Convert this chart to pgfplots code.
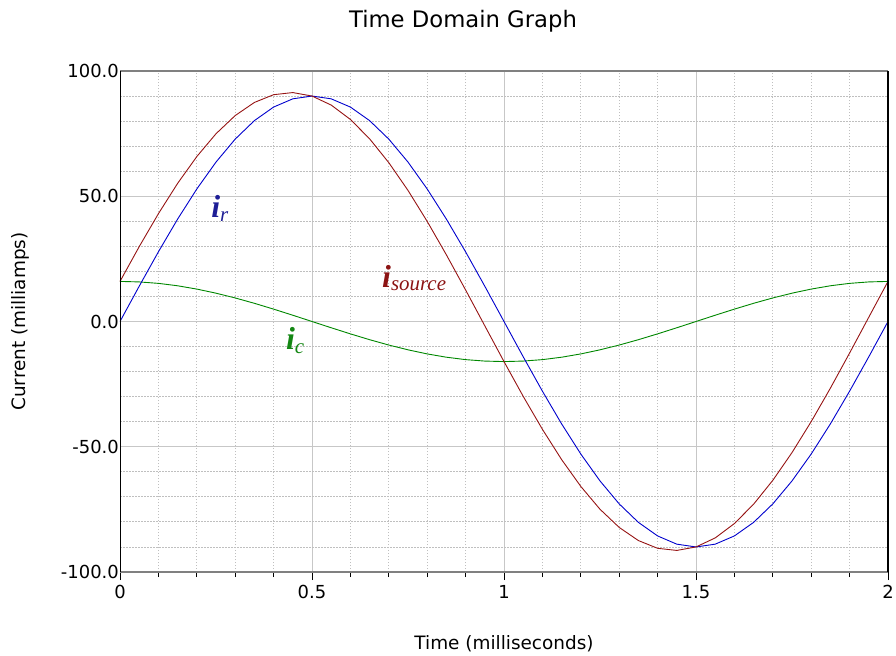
\documentclass[border=0pt]{standalone}
\usepackage{fontspec}
\setmainfont{DejaVu Sans}
\newfontfamily\lblfont{Liberation Serif}
\usepackage{pgfplots}
\usepackage{pgfplotstable}
\pgfplotsset{compat=1.18}
\definecolor{cr}{RGB}{0,0,205}
\definecolor{cs}{RGB}{150,20,20}
\definecolor{cc}{RGB}{0,135,0}
\definecolor{lr}{RGB}{30,30,150}
\definecolor{ls}{RGB}{140,20,20}
\definecolor{lc}{RGB}{20,135,20}
\pgfplotstableread{
t ir ic is
0.00 0 16 16
0.05 14.08 15.80 29.88
0.10 27.81 15.22 43.03
0.15 40.86 14.26 55.12
0.20 52.90 12.94 65.84
0.25 63.64 11.31 74.95
0.30 72.81 9.40 82.21
0.35 80.19 7.26 87.45
0.40 85.60 4.94 90.54
0.45 88.89 2.50 91.39
0.50 90.00 0 90.00
0.55 88.89 -2.50 86.39
0.60 85.60 -4.94 80.66
0.65 80.19 -7.26 72.93
0.70 72.81 -9.40 63.41
0.75 63.64 -11.31 52.33
0.80 52.90 -12.94 39.96
0.85 40.86 -14.26 26.60
0.90 27.81 -15.22 12.59
0.95 14.08 -15.80 -1.72
1.00 0 -16 -16
1.05 -14.08 -15.80 -29.88
1.10 -27.81 -15.22 -43.03
1.15 -40.86 -14.26 -55.12
1.20 -52.90 -12.94 -65.84
1.25 -63.64 -11.31 -74.95
1.30 -72.81 -9.40 -82.21
1.35 -80.19 -7.26 -87.45
1.40 -85.60 -4.94 -90.54
1.45 -88.89 -2.50 -91.39
1.50 -90.00 0 -90.00
1.55 -88.89 2.50 -86.39
1.60 -85.60 4.94 -80.66
1.65 -80.19 7.26 -72.93
1.70 -72.81 9.40 -63.41
1.75 -63.64 11.31 -52.33
1.80 -52.90 12.94 -39.96
1.85 -40.86 14.26 -26.60
1.90 -27.81 15.22 -12.59
1.95 -14.08 15.80 1.72
2.00 0 16 16
}\data
\begin{document}
\begin{tikzpicture}
\useasboundingbox (0,0) rectangle (896bp,656bp);
\begin{axis}[
  at={(120bp,84bp)}, anchor=south west,
  scale only axis, width=768bp, height=501bp,
  xmin=0, xmax=2, ymin=-100, ymax=100,
  xtick={0,0.5,1,1.5,2},
  xticklabels={0,0.5,1,1.5,2},
  ytick={-100,-50,0,50,100},
  yticklabels={-100.0,-50.0,0.0,50.0,100.0},
  minor x tick num=4, minor y tick num=4,
  grid=both,
  major grid style={draw=black!22, line width=0.9bp},
  minor grid style={draw=black!25, line width=0.8bp, dash pattern=on 1.5bp off 1.5bp},
  axis line style={draw=none},
  tick align=outside,
  xtick pos=bottom, ytick pos=left,
  major tick length=8bp, minor tick length=5bp,
  xtick style={draw=black, line width=0.8bp},
  ytick style={draw=none},
  tick label style={font=\fontsize{18}{20}\selectfont},
  yticklabel style={inner xsep=0pt, xshift=7bp},
  xticklabel style={yshift=-2bp},
  title={Time Domain Graph},
  title style={font=\fontsize{22.8}{24}\selectfont, at={(0.5,1)}, anchor=center, yshift=44bp, xshift=-41bp},
  xlabel={Time (milliseconds)},
  xlabel style={font=\fontsize{18.5}{20}\selectfont, at={(0.5,0)}, anchor=center, yshift=-72bp},
  ylabel={Current (milliamps)},
  ylabel style={font=\fontsize{18.5}{20}\selectfont, at={(0,0.5)}, anchor=center, yshift=100bp},
  clip=false,
]
\addplot[cc, line width=0.9bp] table[x=t,y=ic] {\data};
\addplot[cr, line width=0.9bp] table[x=t,y=ir] {\data};
\addplot[cs, line width=0.9bp] table[x=t,y=is] {\data};
\draw[black!50, line width=2.2bp] (rel axis cs:0,1) -- (rel axis cs:1,1);
\draw[black!50, line width=2.2bp] (rel axis cs:0,0) -- (rel axis cs:1,0);
\draw[black, line width=1bp] (rel axis cs:0,0) -- (rel axis cs:0,1);
\draw[black, line width=1.4bp] (rel axis cs:1,0) -- (rel axis cs:1,1);
\node[lr] at (axis cs:0.26,45.2) {\lblfont\fontsize{32}{32}\selectfont\textbf{\textit{i}}\raisebox{-4bp}{\fontsize{21}{21}\selectfont\textit{r}}};
\node[ls] at (axis cs:0.766,17.4) {\lblfont\fontsize{32}{32}\selectfont\textbf{\textit{i}}\raisebox{-3bp}{\fontsize{21}{21}\selectfont\textit{source}}};
\node[lc] at (axis cs:0.456,-7.7) {\lblfont\fontsize{32}{32}\selectfont\textbf{\textit{i}}\raisebox{-4bp}{\fontsize{21}{21}\selectfont\textit{c}}};
\end{axis}
\end{tikzpicture}
\end{document}
